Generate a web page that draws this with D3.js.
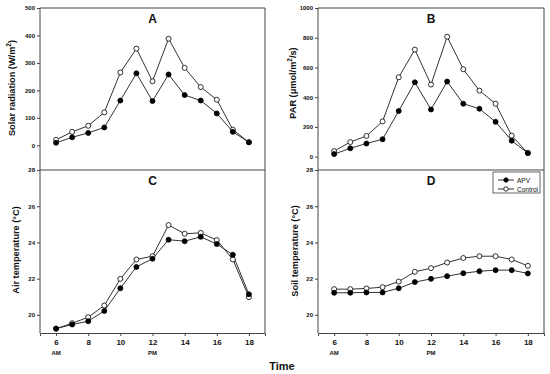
<!DOCTYPE html>
<html><head><meta charset="utf-8">
<script src="https://cdn.jsdelivr.net/npm/d3@7"></script>
<style>body{margin:0;background:#fff}svg{display:block;font-family:"Liberation Sans",Arial,sans-serif}</style>
</head><body>
<script>
const hours = [6,7,8,9,10,11,12,13,14,15,16,17,18];
const xTicks = [6,8,10,12,14,16,18];
const solarAPV = [9,29,45,65,163,262,161,258,183,163,116,49,11];
const solarControl = [20,49,71,120,265,352,233,388,282,212,166,57,11];
const parAPV = [17,56,88,117,307,500,317,505,356,322,234,107,24];
const parControl = [37,98,139,237,534,720,485,807,588,444,356,141,24];
const airAPV = [19.24,19.47,19.65,20.22,21.47,22.65,23.1,24.15,24.07,24.31,23.91,23.32,21.14];
const airControl = [19.24,19.54,19.87,20.52,21.99,23.06,23.24,24.96,24.48,24.53,24.13,23.06,20.98];
const soilAPV = [21.22,21.22,21.24,21.24,21.47,21.81,21.99,22.14,22.30,22.41,22.47,22.47,22.29];
const soilControl = [21.42,21.42,21.46,21.53,21.84,22.38,22.58,22.89,23.14,23.24,23.24,23.06,22.71];
const seriesNames = ["APV","Control"];

const W=550,H=374;
const svg=d3.select("body").append("svg").attr("width",W).attr("height",H);
const axisCol="#444", lineCol="#333";

const panels=[
 {id:"A",x0:40,x1:265,y0:8,y1:170,dom:[-90,500],ticks:[0,100,200,300,400,500],apv:solarAPV,ctl:solarControl,bottomAxis:false,label:"Solar radiation (W/m",sup:"2",after:")",lx:12,ly:88},
 {id:"B",x0:318,x1:544,y0:8,y1:170,dom:[-90,1000],ticks:[0,200,400,600,800,1000],apv:parAPV,ctl:parControl,bottomAxis:false,label:"PAR (\u03bcmol/m",sup:"2",after:"/s)",lx:293,ly:83},
 {id:"C",x0:40,x1:265,y0:170,y1:333,dom:[19,28],ticks:[20,22,24,26,28],apv:airAPV,ctl:airControl,bottomAxis:true,label:"Air temperature (\u00b0C)",lx:16,ly:250},
 {id:"D",x0:318,x1:544,y0:170,y1:333,dom:[19,28],ticks:[20,22,24,26,28],apv:soilAPV,ctl:soilControl,bottomAxis:true,label:"Soil temperature (\u00b0C)",lx:295,ly:251,legend:true}
];

panels.forEach(p=>{
  const x=d3.scaleLinear().domain([5,19]).range([p.x0,p.x1]);
  const y=d3.scaleLinear().domain(p.dom).range([p.y1,p.y0]);
  const g=svg.append("g");
  g.append("line").attr("x1",p.x0).attr("x2",p.x1).attr("y1",p.y0).attr("y2",p.y0).attr("stroke",axisCol);
  g.append("line").attr("x1",p.x1).attr("x2",p.x1).attr("y1",p.y0).attr("y2",p.y1).attr("stroke",axisCol);
  if(p.bottomAxis){
    const xa=g.append("g").attr("transform",`translate(0,${p.y1})`)
      .call(d3.axisBottom(x).tickValues(xTicks).tickFormat(d3.format("d")).tickSize(3).tickPadding(3));
    xa.select(".domain").attr("stroke",axisCol);
    xa.selectAll(".tick line").attr("stroke",axisCol);
    xa.selectAll("text").attr("font-size",8).attr("font-weight","bold").attr("fill","#111").attr("font-family","Liberation Sans, Arial, sans-serif");
    g.append("text").attr("x",x(6)).attr("y",p.y1+22).attr("text-anchor","middle").attr("font-size",6).attr("font-weight","bold").attr("fill","#111").text("AM");
    g.append("text").attr("x",x(12)).attr("y",p.y1+22).attr("text-anchor","middle").attr("font-size",6).attr("font-weight","bold").attr("fill","#111").text("PM");
  }
  const ya=g.append("g").attr("transform",`translate(${p.x0},0)`)
    .call(d3.axisLeft(y).tickValues(p.ticks).tickFormat(d3.format("d")).tickSize(3).tickPadding(2));
  ya.select(".domain").attr("stroke",axisCol).attr("d",`M0,${p.y1}V${p.y0}`);
  ya.selectAll(".tick line").attr("stroke",axisCol);
  ya.selectAll("text").attr("font-size",6).attr("font-weight","bold").attr("fill","#111").attr("font-family","Liberation Sans, Arial, sans-serif");
  g.append("text").attr("x",(p.x0+p.x1)/2).attr("y",p.y0+15).attr("text-anchor","middle").attr("font-size",12).attr("font-weight","bold").attr("fill","#111").text(p.id);
  const t=g.append("text").attr("transform",`translate(${p.lx},${p.ly}) rotate(-90)`).attr("text-anchor","middle").attr("dominant-baseline","central").attr("font-size",9.2).attr("font-weight","bold").attr("fill","#111");
  t.append("tspan").text(p.label);
  if(p.sup){ t.append("tspan").attr("font-size",6.5).attr("dy",-4).text(p.sup); t.append("tspan").attr("dy",4).text(p.after); }
  const line=d3.line().x((d,i)=>x(hours[i])).y(d=>y(d));
  [p.ctl,p.apv].forEach(vals=>{
    g.append("path").datum(vals).attr("d",line).attr("fill","none").attr("stroke",lineCol).attr("stroke-width",1);
  });
  [[p.ctl,"#fff"],[p.apv,"#000"]].forEach(([vals,fill])=>{
    g.selectAll(null).data(vals).enter().append("circle").attr("cx",(d,i)=>x(hours[i])).attr("cy",d=>y(d)).attr("r",2.5).attr("fill",fill).attr("stroke","#000").attr("stroke-width",0.8);
  });
  if(p.legend){
    const lg=g.append("g");
    lg.append("rect").attr("x",493).attr("y",172).attr("width",47).attr("height",21).attr("fill","#fff").attr("stroke",axisCol).attr("stroke-width",0.8);
    [["#000",180],["#fff",189]].forEach(([fill,yy],i)=>{
      lg.append("line").attr("x1",498).attr("x2",514).attr("y1",yy).attr("y2",yy).attr("stroke",lineCol);
      lg.append("circle").attr("cx",506).attr("cy",yy).attr("r",2.2).attr("fill",fill).attr("stroke","#000").attr("stroke-width",0.8);
      lg.append("text").attr("x",517).attr("y",yy).attr("dominant-baseline","central").attr("font-size",6.5).attr("fill","#111").text(seriesNames[i]);
    });
  }
});
svg.append("text").attr("x",282).attr("y",370).attr("text-anchor","middle").attr("font-size",11).attr("font-weight","bold").attr("fill","#111").text("Time");
</script>
</body></html>
